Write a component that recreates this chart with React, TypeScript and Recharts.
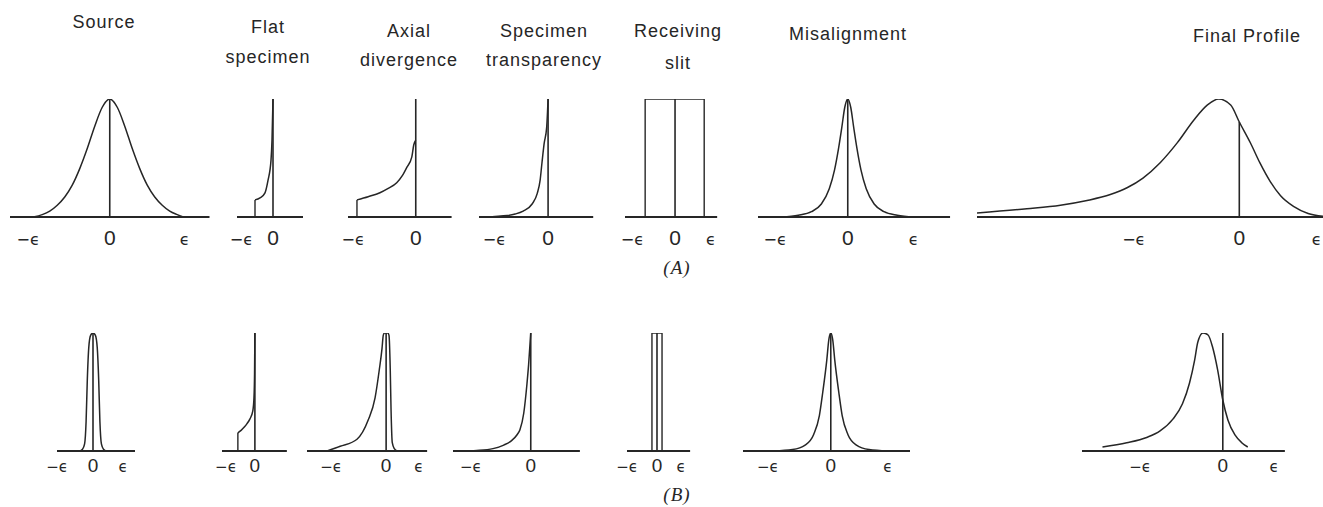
import { LineChart, Line, XAxis, YAxis } from "recharts";

type Pt = { x: number; y: number };

const INK = "#262626";

// column headings
const titles: { lines: string[]; x: number; y: number[] }[] = [
  { lines: ["Source"], x: 104, y: [28] },
  { lines: ["Flat", "specimen"], x: 268, y: [33, 63] },
  { lines: ["Axial", "divergence"], x: 409, y: [37, 66] },
  { lines: ["Specimen", "transparency"], x: 544, y: [37, 66] },
  { lines: ["Receiving", "slit"], x: 678, y: [37, 69] },
  { lines: ["Misalignment"], x: 848, y: [40] },
  { lines: ["Final Profile"], x: 1247, y: [42] },
];

// tick values, in units of ε
const ticksSym = [-1, 0, 1];
const ticksLeft = [-1, 0];
const ticksSkew = [-1.2, 0, 0.8];
const ticksFinalA = [-1.15, 0, 0.9];

// ---- row (A): x in ε, y relative to peak ----
const sourceA: Pt[] = [
  { x: -1.02, y: 0 }, { x: -0.9, y: 0.02 }, { x: -0.8, y: 0.05 }, { x: -0.7, y: 0.1 },
  { x: -0.6, y: 0.17 }, { x: -0.5, y: 0.27 }, { x: -0.4, y: 0.41 }, { x: -0.3, y: 0.58 },
  { x: -0.2, y: 0.77 }, { x: -0.1, y: 0.93 }, { x: 0, y: 1 }, { x: 0.1, y: 0.93 },
  { x: 0.2, y: 0.77 }, { x: 0.3, y: 0.58 }, { x: 0.4, y: 0.41 }, { x: 0.5, y: 0.27 },
  { x: 0.6, y: 0.17 }, { x: 0.7, y: 0.1 }, { x: 0.8, y: 0.05 }, { x: 0.9, y: 0.02 }, { x: 0.98, y: 0 },
];
const flatA: Pt[] = [
  { x: -0.72, y: 0.145 }, { x: -0.52, y: 0.162 }, { x: -0.32, y: 0.205 }, { x: -0.2, y: 0.31 },
  { x: -0.08, y: 0.48 }, { x: -0.04, y: 0.65 }, { x: 0, y: 1 },
];
const flatEdgeA: Pt[] = [{ x: -0.72, y: 0 }, { x: -0.72, y: 0.145 }];
const axialA: Pt[] = [
  { x: -1.05, y: 0.145 }, { x: -0.85, y: 0.172 }, { x: -0.64, y: 0.205 }, { x: -0.5, y: 0.24 },
  { x: -0.34, y: 0.29 }, { x: -0.24, y: 0.35 }, { x: -0.16, y: 0.42 }, { x: -0.07, y: 0.51 },
  { x: -0.036, y: 0.61 }, { x: 0, y: 0.65 },
];
const axialEdgeA: Pt[] = [{ x: -1.05, y: 0 }, { x: -1.05, y: 0.145 }];
const transpA: Pt[] = [
  { x: -1.45, y: 0 }, { x: -1.13, y: 0.005 }, { x: -0.87, y: 0.012 }, { x: -0.7, y: 0.025 },
  { x: -0.53, y: 0.05 }, { x: -0.34, y: 0.11 }, { x: -0.23, y: 0.2 }, { x: -0.17, y: 0.31 },
  { x: -0.13, y: 0.46 }, { x: -0.085, y: 0.62 }, { x: -0.03, y: 0.76 }, { x: 0, y: 1 },
];
const slitA: Pt[] = [{ x: -0.83, y: 0 }, { x: -0.83, y: 1 }, { x: 0.81, y: 1 }, { x: 0.81, y: 0 }];
const misalignA: Pt[] = [
  { x: -1.0, y: 0 }, { x: -0.75, y: 0.015 }, { x: -0.55, y: 0.045 }, { x: -0.4, y: 0.11 },
  { x: -0.28, y: 0.24 }, { x: -0.2, y: 0.4 }, { x: -0.14, y: 0.58 }, { x: -0.09, y: 0.76 },
  { x: -0.045, y: 0.93 }, { x: 0, y: 1 }, { x: 0.045, y: 0.93 }, { x: 0.09, y: 0.76 },
  { x: 0.14, y: 0.58 }, { x: 0.2, y: 0.4 }, { x: 0.28, y: 0.24 }, { x: 0.4, y: 0.11 },
  { x: 0.55, y: 0.045 }, { x: 0.75, y: 0.015 }, { x: 1.0, y: 0 },
];
const finalA: Pt[] = [
  { x: -3.05, y: 0.034 }, { x: -2.47, y: 0.07 }, { x: -2.08, y: 0.1 }, { x: -1.77, y: 0.14 },
  { x: -1.5, y: 0.19 }, { x: -1.3, y: 0.25 }, { x: -1.12, y: 0.33 }, { x: -0.92, y: 0.46 },
  { x: -0.72, y: 0.63 }, { x: -0.53, y: 0.82 }, { x: -0.37, y: 0.95 }, { x: -0.24, y: 1.0 },
  { x: -0.1, y: 0.949 }, { x: 0, y: 0.805 }, { x: 0.13, y: 0.627 }, { x: 0.24, y: 0.458 },
  { x: 0.36, y: 0.3 }, { x: 0.48, y: 0.18 }, { x: 0.63, y: 0.09 }, { x: 0.8, y: 0.03 }, { x: 0.98, y: 0.005 },
];

// ---- row (B) ----
const sourceB: Pt[] = [
  { x: -0.45, y: 0 }, { x: -0.35, y: 0.015 }, { x: -0.28, y: 0.06 }, { x: -0.23, y: 0.25 },
  { x: -0.19, y: 0.6 }, { x: -0.14, y: 0.88 }, { x: -0.08, y: 0.98 }, { x: 0, y: 1 },
  { x: 0.08, y: 0.98 }, { x: 0.14, y: 0.88 }, { x: 0.19, y: 0.6 }, { x: 0.23, y: 0.25 },
  { x: 0.28, y: 0.06 }, { x: 0.35, y: 0.015 }, { x: 0.45, y: 0 },
];
const flatB: Pt[] = [
  { x: -0.74, y: 0.154 }, { x: -0.6, y: 0.175 }, { x: -0.45, y: 0.205 }, { x: -0.35, y: 0.23 },
  { x: -0.22, y: 0.27 }, { x: -0.09, y: 0.34 }, { x: -0.04, y: 0.45 }, { x: -0.015, y: 0.65 }, { x: 0, y: 1 },
];
const flatEdgeB: Pt[] = [{ x: -0.74, y: 0 }, { x: -0.74, y: 0.154 }];
const axialB: Pt[] = [
  { x: -1.44, y: 0 }, { x: -1.12, y: 0.04 }, { x: -0.71, y: 0.1 }, { x: -0.44, y: 0.26 },
  { x: -0.27, y: 0.45 }, { x: -0.17, y: 0.68 }, { x: -0.1, y: 0.87 }, { x: -0.07, y: 0.98 },
  { x: -0.04, y: 1 }, { x: 0.04, y: 1 }, { x: 0.07, y: 0.98 }, { x: 0.1, y: 0.7 },
  { x: 0.12, y: 0.35 }, { x: 0.15, y: 0.07 }, { x: 0.2, y: 0.02 }, { x: 0.27, y: 0 },
];
const transpB: Pt[] = [
  { x: -1.3, y: 0 }, { x: -1.0, y: 0.005 }, { x: -0.7, y: 0.02 }, { x: -0.5, y: 0.05 },
  { x: -0.35, y: 0.09 }, { x: -0.25, y: 0.14 }, { x: -0.2, y: 0.18 }, { x: -0.13, y: 0.32 },
  { x: -0.07, y: 0.57 }, { x: -0.04, y: 0.73 }, { x: 0, y: 1 },
];
const slitB: Pt[] = [{ x: -0.21, y: 0 }, { x: -0.21, y: 1 }, { x: 0.21, y: 1 }, { x: 0.21, y: 0 }];
const misalignB: Pt[] = [
  { x: -1.0, y: 0 }, { x: -0.67, y: 0.012 }, { x: -0.45, y: 0.05 }, { x: -0.3, y: 0.14 },
  { x: -0.2, y: 0.3 }, { x: -0.14, y: 0.5 }, { x: -0.07, y: 0.77 }, { x: -0.035, y: 0.94 },
  { x: 0, y: 1 }, { x: 0.035, y: 0.94 }, { x: 0.07, y: 0.77 }, { x: 0.14, y: 0.5 },
  { x: 0.2, y: 0.3 }, { x: 0.3, y: 0.14 }, { x: 0.45, y: 0.05 }, { x: 0.67, y: 0.012 }, { x: 1.0, y: 0 },
];
const finalB: Pt[] = [
  { x: -1.88, y: 0.034 }, { x: -1.5, y: 0.07 }, { x: -1.19, y: 0.115 }, { x: -0.98, y: 0.17 },
  { x: -0.78, y: 0.27 }, { x: -0.63, y: 0.4 }, { x: -0.52, y: 0.576 }, { x: -0.44, y: 0.771 },
  { x: -0.39, y: 0.924 }, { x: -0.31, y: 1.0 }, { x: -0.23, y: 0.983 }, { x: -0.16, y: 0.881 },
  { x: -0.08, y: 0.686 }, { x: 0, y: 0.432 }, { x: 0.08, y: 0.263 }, { x: 0.19, y: 0.136 },
  { x: 0.3, y: 0.068 }, { x: 0.39, y: 0.034 },
];

// heights of the line drawn at x = 0
const zeroTopsA = [1, 1, 1, 1, 1, 1, 0.805];
const zeroTopsB = [1, 1, 1, 1, 1, 1, 1];

const ROW_A = 217;
const ROW_B = 451;
const SPAN = 118;
const PAD = 10;
const SIDE = 30;
const AXIS_H = 34;

type PanelCfg = {
  zero: number;
  scale: number;
  xmin: number;
  xmax: number;
  ticks: number[];
  curves: Pt[][];
  edges: Pt[][];
};

const vline = (top: number): Pt[] => [{ x: 0, y: 0 }, { x: 0, y: top }];

const panelsA: PanelCfg[] = [
  { zero: 110, scale: 75, xmin: -1.33, xmax: 1.33, ticks: ticksSym, curves: [sourceA], edges: [] },
  { zero: 273, scale: 25, xmin: -1.44, xmax: 1.2, ticks: ticksLeft, curves: [flatA], edges: [flatEdgeA] },
  { zero: 416, scale: 56, xmin: -1.21, xmax: 0.64, ticks: ticksLeft, curves: [axialA], edges: [axialEdgeA] },
  { zero: 548, scale: 47, xmin: -1.47, xmax: 0.96, ticks: ticksLeft, curves: [transpA], edges: [] },
  { zero: 675, scale: 36, xmin: -1.39, xmax: 1.17, ticks: ticksSym, curves: [], edges: [slitA] },
  { zero: 848, scale: 66, xmin: -1.36, xmax: 1.55, ticks: ticksSym, curves: [misalignA], edges: [] },
  { zero: 1239, scale: 86, xmin: -3.05, xmax: 1.2, ticks: ticksFinalA, curves: [finalA], edges: [] },
];

const panelsB: PanelCfg[] = [
  { zero: 93, scale: 30, xmin: -1.2, xmax: 1.4, ticks: ticksSym, curves: [sourceB], edges: [] },
  { zero: 255, scale: 23, xmin: -1.43, xmax: 1.39, ticks: ticksLeft, curves: [flatB], edges: [flatEdgeB] },
  { zero: 386, scale: 41, xmin: -1.93, xmax: 1.0, ticks: ticksSkew, curves: [axialB], edges: [] },
  { zero: 531, scale: 54, xmin: -1.44, xmax: 0.91, ticks: ticksLeft, curves: [transpB], edges: [] },
  { zero: 657, scale: 24, xmin: -1.25, xmax: 1.38, ticks: ticksSym, curves: [], edges: [slitB] },
  { zero: 831, scale: 57, xmin: -1.54, xmax: 1.39, ticks: ticksSym, curves: [misalignB], edges: [] },
  { zero: 1223, scale: 64, xmin: -2.2, xmax: 0.97, ticks: ticksSkew, curves: [finalB], edges: [] },
];

function EpsTick(props: any) {
  const { x, y, payload, big } = props;
  const v = payload.value;
  const dy = big ? 28 : 21;
  if (v === 0) {
    return (
      <text x={x} y={y + dy} textAnchor="middle" fontFamily="Liberation Sans, Arial" fontSize={big ? 21 : 19} fill={INK}>
        0
      </text>
    );
  }
  const neg = v < 0;
  return (
    <text
      x={neg ? x + 5 : x}
      y={y + dy}
      textAnchor={neg ? "end" : "middle"}
      fontFamily="DejaVu Sans"
      fontSize={big ? 16 : 15}
      fill={INK}
    >
      {neg ? "\u2212\u03f5" : "\u03f5"}
    </text>
  );
}

function Panel({ p, base, zeroTop, big }: { p: PanelCfg; base: number; zeroTop: number; big: boolean }) {
  const plotW = (p.xmax - p.xmin) * p.scale;
  const left = p.zero + p.xmin * p.scale - SIDE;
  const top = base - SPAN - PAD;
  return (
    <div style={{ position: "absolute", left, top }}>
      <LineChart
        width={plotW + 2 * SIDE}
        height={PAD + SPAN + AXIS_H}
        margin={{ top: PAD, right: SIDE, bottom: 0, left: SIDE }}
      >
        <XAxis
          type="number"
          dataKey="x"
          domain={[p.xmin, p.xmax]}
          ticks={p.ticks}
          interval={0}
          allowDataOverflow
          height={AXIS_H}
          axisLine={{ stroke: INK, strokeWidth: 2 }}
          tickLine={false}
          tickSize={0}
          tickMargin={0}
          tick={(tp: any) => <EpsTick {...tp} big={big} />}
        />
        <YAxis type="number" domain={[0, 1]} hide allowDataOverflow />
        {p.curves.map((d, i) => (
          <Line
            key={"c" + i}
            data={d}
            dataKey="y"
            type="monotone"
            stroke={INK}
            strokeWidth={1.5}
            dot={false}
            isAnimationActive={false}
          />
        ))}
        {p.edges.map((d, i) => (
          <Line
            key={"e" + i}
            data={d}
            dataKey="y"
            type="linear"
            stroke={INK}
            strokeWidth={1.4}
            dot={false}
            isAnimationActive={false}
          />
        ))}
        <Line
          data={vline(zeroTop)}
          dataKey="y"
          type="linear"
          stroke={INK}
          strokeWidth={1.6}
          dot={false}
          isAnimationActive={false}
        />
      </LineChart>
    </div>
  );
}

export default function App() {
  return (
    <div
      style={{
        position: "fixed",
        left: 0,
        top: 0,
        width: 1323,
        height: 507,
        overflow: "hidden",
        background: "#fff",
      }}
    >
      {panelsA.map((p, i) => (
        <Panel key={"a" + i} p={p} base={ROW_A} zeroTop={zeroTopsA[i]} big />
      ))}
      {panelsB.map((p, i) => (
        <Panel key={"b" + i} p={p} base={ROW_B} zeroTop={zeroTopsB[i]} big={false} />
      ))}
      <svg width={1323} height={507} style={{ position: "absolute", left: 0, top: 0, pointerEvents: "none" }}>
        {titles.map((t) =>
          t.lines.map((line, j) => (
            <text
              key={line}
              x={t.x}
              y={t.y[j]}
              textAnchor="middle"
              fontFamily="Liberation Sans, Arial"
              fontSize={18}
              letterSpacing={1}
              fill={INK}
            >
              {line}
            </text>
          ))
        )}
        <text x={677} y={274} textAnchor="middle" fontFamily="Liberation Serif" fontStyle="italic" fontSize={19} letterSpacing={1} fill={INK}>
          (A)
        </text>
        <text x={677} y={501} textAnchor="middle" fontFamily="Liberation Serif" fontStyle="italic" fontSize={19} letterSpacing={1} fill={INK}>
          (B)
        </text>
      </svg>
    </div>
  );
}
